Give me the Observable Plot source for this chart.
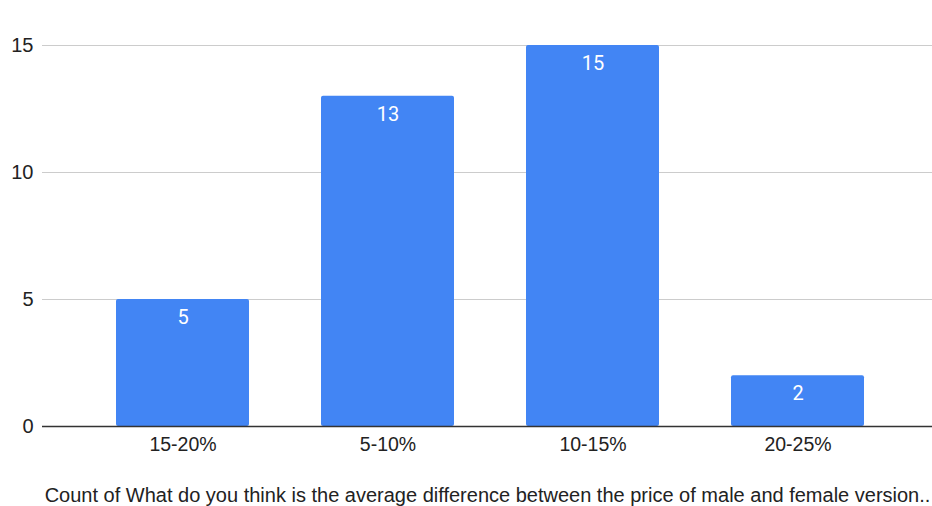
<!DOCTYPE html>
<html><head><meta charset="utf-8">
<script src="https://cdn.jsdelivr.net/npm/d3@7"></script>
<script src="https://cdn.jsdelivr.net/npm/@observablehq/plot@0.6"></script>
<style>body{margin:0;background:#fff}</style>
</head><body><div id="chart"></div>
<script>
// Survey answers: how many respondents picked each price-gap range
const categories = ["15-20%", "5-10%", "10-15%", "20-25%"];
const counts = [5, 13, 15, 2];
const yTicks = [0, 5, 10, 15];
const caption = "Count of What do you think is the average difference between the price of male and female version..";

const data = categories.map((c, i) => ({range: c, count: counts[i]}));

const chart = Plot.plot({
  width: 932,
  height: 506,
  marginTop: 45,
  marginBottom: 80,
  marginLeft: 42,
  marginRight: 0,
  style: {fontFamily: "Arial, 'Liberation Sans', sans-serif", fontSize: "20px", color: "#222", background: "#fff"},
  x: {domain: categories, insetLeft: 37, insetRight: 31, paddingInner: 0.35, paddingOuter: 0.175, label: null, axis: null},
  y: {domain: [0, 15], label: null, axis: null},
  marks: [
    Plot.ruleY(yTicks.filter(d => d > 0), {stroke: "#ccc"}),
    Plot.barY(data, {x: "range", y: "count", fill: "#4285f4", rx: 2}),
    Plot.ruleY([0], {stroke: "#333", strokeWidth: 1.5}),
    Plot.text(data, {x: "range", y: "count", text: d => String(d.count), dy: 18, fill: "white", fontFamily: "Roboto, sans-serif", fontSize: 20}),
    Plot.axisY({ticks: yTicks, tickSize: 0, tickPadding: 9, label: null, fontSize: 20}),
    Plot.axisX({tickSize: 0, tickPadding: 11, label: null, fontSize: 19.5}),
    // Series caption under the category axis
    Plot.text([caption], {frameAnchor: "bottom", dy: 75, fontSize: 20, lineWidth: 100, fill: "#222"})
  ]
});
document.getElementById("chart").append(chart);
</script>
</body></html>
